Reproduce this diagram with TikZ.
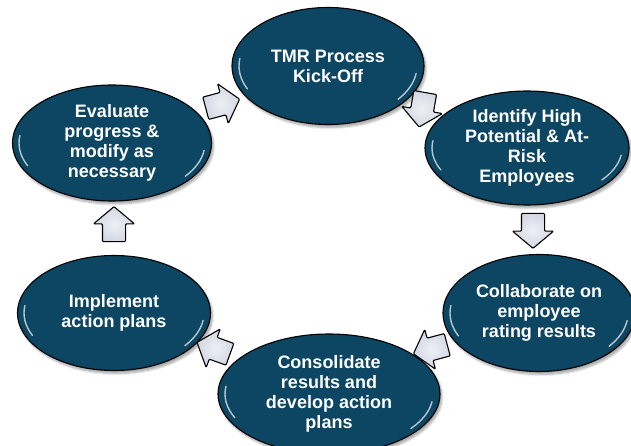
\documentclass[tikz,border=0pt]{standalone}
\usepackage{fontspec}
\setmainfont{Liberation Sans}
\usetikzlibrary{shapes.geometric,shapes.arrows,shadows.blur,calc}
\definecolor{tealD}{HTML}{0C4662}
\definecolor{tealM}{HTML}{1F5F7A}
\definecolor{tealL}{HTML}{5E98AE}
\definecolor{arrF}{HTML}{D3D7E2}
\definecolor{arrL}{HTML}{EEF0F5}
\pgfdeclareradialshading{ellglow}{\pgfpoint{0bp}{0bp}}{color(0bp)=(tealD);color(37bp)=(tealD);color(46bp)=(tealM);color(50bp)=(tealL)}
\newcommand{\glossy}[3]{%
  \draw[glossline] ($(#1.center)+(172:#2 and #3)$) arc[start angle=172,end angle=205,x radius=#2,y radius=#3];
  \draw[glossline] ($(#1.center)+(-38:#2 and #3)$) arc[start angle=-38,end angle=-8,x radius=#2,y radius=#3];}
\tikzset{
  stage/.style={ellipse, draw=black, line width=1.1pt, shading=ellglow,
    text=white, font=\fontsize{18}{20}\selectfont\bfseries, align=center, inner sep=0pt,
    blur shadow={shadow xshift=2pt, shadow yshift=-3pt, shadow opacity=35, shadow blur steps=6}},
  flowarrow/.style={single arrow, draw=black, line width=1.1pt, inner color=arrL, outer color=arrF,
    minimum height=35pt, inner xsep=0pt, inner ysep=11pt, single arrow head extend=9pt,
    single arrow tip angle=100, rounded corners=1pt},
  glossline/.style={white, line width=1.4pt, opacity=0.7, line cap=round}
}
\begin{document}
\begin{tikzpicture}[x=1pt,y=-1pt]
\useasboundingbox (0,0) rectangle (631,446);
\node[stage, minimum width=192pt, minimum height=117pt] (tmr) at (328,66) {TMR Process\\Kick-Off};
\node[stage, minimum width=204pt, minimum height=114pt] (idf) at (527,148) {Identify High\\Potential \& At-\\Risk\\Employees};
\node[stage, minimum width=192pt, minimum height=117pt] (col) at (539,313) {Collaborate on\\employee\\rating results};
\node[stage, minimum width=222pt, minimum height=120pt] (con) at (329,394) {Consolidate\\results and\\develop action\\plans};
\node[stage, minimum width=193pt, minimum height=115pt] (imp) at (114,313) {Implement\\action plans};
\node[stage, minimum width=199pt, minimum height=116pt] (eva) at (112,143) {Evaluate\\progress \&\\modify as\\necessary};
\glossy{tmr}{89pt}{54pt}
\glossy{idf}{95pt}{52pt}
\glossy{col}{89pt}{54pt}
\glossy{con}{104pt}{56pt}
\glossy{imp}{90pt}{53pt}
\glossy{eva}{93pt}{54pt}
\node[flowarrow, rotate=15] (a1) at (218,105) {};
\node[flowarrow, rotate=-100] (a2) at (423,105) {};
\node[flowarrow, rotate=-90] (a3) at (533,226) {};
\node[flowarrow, rotate=195] (a4) at (435,348) {};
\node[flowarrow, rotate=160] (a5) at (218,350) {};
\node[flowarrow, rotate=90] (a6) at (114,229) {};
\end{tikzpicture}
\end{document}
